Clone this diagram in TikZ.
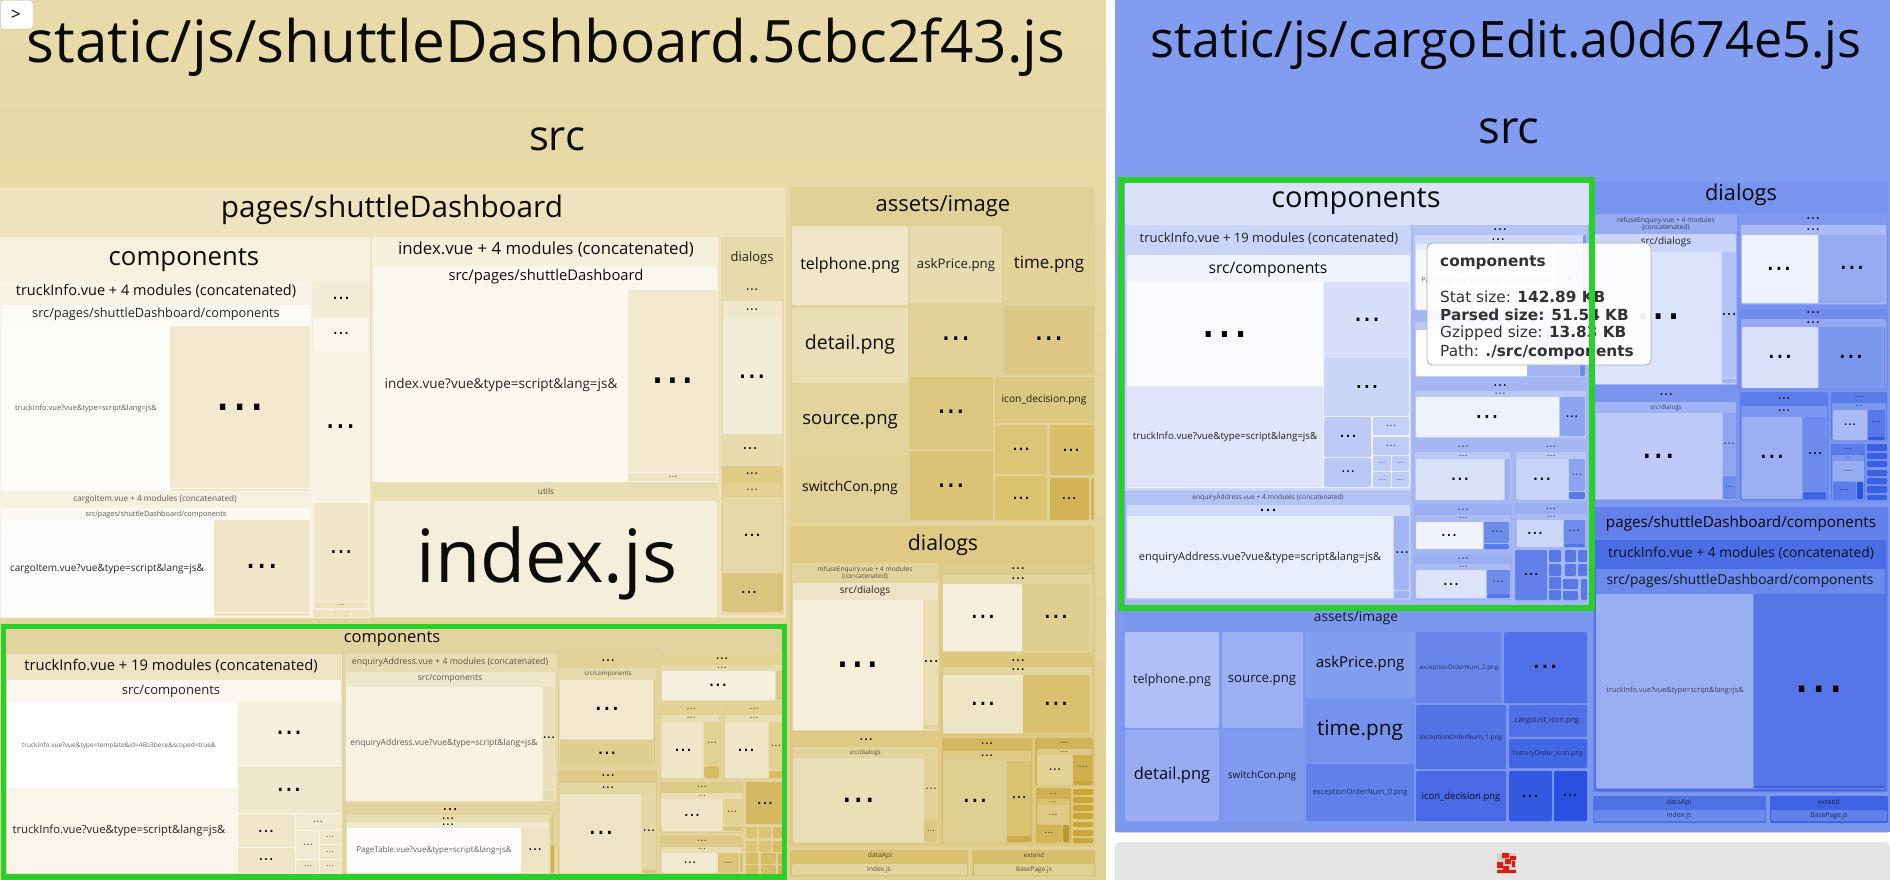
\documentclass[tikz,border=0pt]{standalone}
\usepackage{fontspec}
\setmainfont{Open Sans}
\newfontfamily\tipf{DejaVu Sans}
\usetikzlibrary{calc}
\font\measf="Open Sans" at 10pt
\newsavebox\mybox
\newcommand\R[5]{\definecolor{tmpc}{HTML}{#5}\fill[tmpc,rounded corners=1.2pt] (#1,#2) rectangle (#3,#4);}
\newcommand\T[4]{\sbox\mybox{\measf #4}\edef\wdv{\the\wd\mybox}%
 \pgfmathsetmacro\szv{round(40*(#3/\wdv))/4}%
 \pgfmathsetmacro\shv{-0.33*\szv}%
 \pgfmathparse{\szv<9?0.62:(\szv<14?0.85:0.95)}\let\opv\pgfmathresult
 \node[txt,yshift=\shv pt,text opacity=\opv,font=\fontsize{\szv}{\szv}\selectfont] at (#1,#2) {#4};}
\newcommand\Two[5]{\node[dotnode,text opacity=.62,align=center,font=\fontsize{#3}{#4}\selectfont] at (#1,#2) {#5};}
\newcommand\D[3]{\pgfmathparse{#3<10?0.7:1}\let\opv\pgfmathresult
 \pgfmathsetmacro\szv{round(#3/0.78*4)/4}%
 \node[dotnode,text opacity=\opv,font=\tipf\fontsize{\szv}{\szv}\selectfont] at (#1,#2) {…};}
\tikzset{txt/.style={anchor=base,inner sep=0pt,outer sep=0pt,text=black},
 dotnode/.style={anchor=center,inner sep=0pt,outer sep=0pt,text=black},
 greenbox/.style={draw={rgb,255:red,42;green,207;blue,44},line width=5.5pt,fill=none},
 tip/.style={anchor=base west,inner sep=0pt,font=\tipf\fontsize{15.3}{16}\selectfont,text={rgb,255:red,50;green,50;blue,50}}}
\begin{document}
\begin{tikzpicture}[x=1pt,y=-1pt]
\useasboundingbox (0,0) rectangle (1890,880);
\fill[white] (0,0) rectangle (1890,880);
% ---- LEFT PANEL
\fill[top color={rgb,255:red,232;green,218;blue,170},bottom color={rgb,255:red,226;green,209;blue,150}] (0,0) rectangle (1106,880);
\T{546}{43}{1038}{static/js/shuttleDashboard.5cbc2f43.js}
\T{557}{137}{56}{src}
% button
\definecolor{btn}{HTML}{BBBBBB}
\draw[btn,fill=white,rounded corners=3pt] (0.5,0.5) rectangle (33,29);
\T{16}{15}{10}{>}
% pages/shuttleDashboard
\R{0}{187}{786}{618}{EEE2BF}
\T{392}{208}{343}{pages/shuttleDashboard}
\R{0}{237}{370}{618}{F6F0DF}
\T{184}{257}{150}{components}
\R{0}{281}{311}{492}{F8F3E7}
\T{156}{291}{280}{truckInfo.vue + 4 modules (concatenated)}
\R{1}{305}{311}{491}{FCFAF4}
\T{156}{313}{250}{src/pages/shuttleDashboard/components}
\R{1}{326}{170}{491}{FDFCF9}
\T{86}{408}{140}{truckInfo.vue?vue\&type=script\&lang=js\&}
\R{170}{326}{310}{488}{F2E9CF}
\D{240}{407}{40}
\R{170}{489}{310}{491}{EFE5C8}
\R{312}{281}{369}{318}{F3ECD6}\D{341}{298}{14}
\R{314}{318}{368}{350}{F9F5EA}\D{341}{333}{13}
\R{312}{350}{369}{503}{F8F3E7}\D{341}{427}{24}
\R{314}{503}{368}{601}{EFE5C7}\D{341}{552}{18}
\R{314}{602}{368}{608}{EEE2BF}\D{341}{605}{5}
\R{313}{610}{331}{617}{EDE2BE}\R{332}{610}{350}{617}{EDE2BE}\R{351}{610}{369}{617}{EDE2BE}
\R{0}{492}{311}{617}{F6F0DE}
\T{155}{499}{165}{cargoItem.vue + 4 modules (concatenated)}
\R{1}{508}{311}{617}{FBF8F1}
\T{156}{514}{143}{src/pages/shuttleDashboard/components}
\R{1}{520}{214}{617}{FFFEFC}
\T{107}{568}{195}{cargoItem.vue?vue\&type=script\&lang=js\&}
\R{214}{520}{310}{612}{EFE6C8}\D{262}{566}{26}
\R{214}{613}{310}{616}{EEE2BF}
% index.vue
\R{372}{237}{718}{482}{F5EFDC}
\T{546}{249}{294}{index.vue + 4 modules (concatenated)}
\R{374}{266}{717}{482}{FAF7EE}
\T{546}{276}{194}{src/pages/shuttleDashboard}
\R{374}{290}{628}{482}{FBF8F0}
\T{501}{384}{234}{index.vue?vue\&type=script\&lang=js\&}
\R{628}{290}{717}{472}{F1E8CD}\D{673}{381}{35}
\R{628}{473}{717}{481}{EEE3C2}\D{673}{477}{7}
\R{372}{482}{718}{617}{E9DDB4}
\T{546}{492}{16}{utils}
\R{374}{501}{717}{617}{F5EEDB}
\T{547}{558}{260}{index.js}
% dialogs column
\R{721}{237}{784}{615}{E8DAAD}
\T{752}{257}{43}{dialogs}
\D{752}{290}{10}
\R{723}{301}{782}{463}{EBE0BC}
\R{723}{301}{782}{319}{F0E8CC}\D{752}{310}{10}
\R{723}{319}{782}{434}{F3ECD7}\D{752}{377}{22}
\R{723}{434}{776}{463}{E9DBAC}\D{750}{449}{12}
\R{777}{434}{782}{463}{E9DCAF}
\R{722}{466}{783}{612}{DFCA86}\D{752}{474}{10}
\R{723}{482}{782}{497}{E2D193}\D{752}{490}{9}
\R{723}{497}{782}{573}{E7D8A9}\D{752}{535}{14}
\R{723}{574}{776}{611}{DCC67D}\D{749}{592}{13}
\R{777}{574}{782}{611}{D9C170}
% assets/image
\R{790}{187}{1095}{522}{E2D197}
\T{943}{204}{135}{assets/image}
\R{792}{226}{908}{305}{F0E7CA}\T{850}{264}{99}{telphone.png}
\R{910}{226}{1002}{303}{E8DBB0}\T{956}{264}{78}{askPrice.png}
\R{1004}{226}{1094}{305}{E3D398}\T{1049}{263}{70}{time.png}
\R{792}{308}{908}{383}{EADEB5}\T{850}{343}{90}{detail.png}
\R{910}{306}{1002}{375}{E3D399}\D{956}{339}{23}
\R{1004}{306}{1094}{374}{DEC885}\D{1049}{339}{23}
\R{792}{384}{908}{454}{E3D49E}\T{850}{418}{96}{source.png}
\R{792}{455}{908}{520}{E2D197}\T{850}{487}{96}{switchCon.png}
\R{910}{377}{993}{449}{DDC67D}\D{951}{412}{22}
\R{910}{451}{993}{520}{DBC478}\D{951}{486}{22}
\R{995}{377}{1094}{423}{DDC881}\T{1044}{399}{84}{icon\_decision.png}
\R{995}{425}{1047}{474}{DCC576}\D{1021}{449}{14}
\R{1050}{425}{1094}{475}{D8BF68}\D{1071}{450}{14}
\R{995}{476}{1047}{520}{DBC370}\D{1021}{498}{14}
\R{1050}{478}{1089}{520}{D2B355}\D{1069}{499}{12}
\R{1091}{478}{1094}{520}{D2B355}
% dialogs
\R{790}{526}{1095}{846}{DEC985}
\T{943}{543}{70}{dialogs}
\R{792}{563}{939}{731}{E3D49E}
\Two{865}{573}{6.6}{7}{refuseEnquiry.vue + 4 modules\\(concatenated)}
\R{793}{583}{938}{730}{EDE4C5}\T{865}{590}{50}{src/dialogs}
\R{793}{600}{923}{730}{F5EEDB}\D{858}{665}{35}
\R{923}{600}{938}{725}{E9DDB3}\D{931}{662}{12}
\R{923}{725}{938}{729}{E3D49E}
\R{792}{733}{939}{845}{DEC985}\D{866}{740}{11}
\R{793}{747}{938}{843}{E3D49E}\T{865}{752}{31}{src/dialogs}
\R{793}{758}{924}{842}{EADFB6}\D{859}{800}{27}
\R{924}{758}{937}{820}{E2D195}\D{931}{789}{9}
\R{924}{820}{937}{842}{DCC781}\D{931}{831}{6}
\R{941}{564}{1093}{653}{DFCC8B}\D{1018}{569}{11}
\R{943}{575}{1092}{652}{E3D49F}\D{1018}{579}{11}
\R{943}{584}{1022}{651}{F5EFDD}\D{983}{617}{20}
\R{1023}{584}{1090}{651}{E0CE8F}\D{1056}{617}{20}
\R{942}{656}{1093}{735}{DCC67C}\D{1018}{661}{11}
\R{943}{667}{1092}{734}{E3D49F}\D{1018}{670}{11}
\R{943}{675}{1023}{733}{EFE5C7}\D{983}{704}{20}
\R{1023}{675}{1090}{733}{D9C170}\D{1056}{704}{20}
\R{942}{738}{1032}{843}{D4B85E}\D{987}{744}{10}
\R{943}{751}{1031}{843}{DEC986}\D{987}{756}{10}
\R{943}{761}{1006}{842}{E0CF92}\D{975}{801}{20}
\R{1007}{761}{1031}{836}{DAC272}\D{1019}{798}{12}
\R{1007}{836}{1031}{842}{CDAC48}
\R{1035}{738}{1093}{785}{D2B355}\D{1064}{743}{7}
\R{1037}{749}{1092}{785}{DEC986}\D{1064}{752}{6}
\R{1037}{755}{1073}{785}{E2D296}\D{1055}{770}{10}
\R{1073}{755}{1092}{781}{CFAF4C}\D{1083}{767}{7}
\R{1073}{781}{1092}{785}{C9A63B}
\R{1036}{788}{1071}{843}{CFB052}\D{1053}{794}{6}
\R{1037}{799}{1070}{843}{D9C270}\D{1053}{802}{5}
\R{1037}{805}{1069}{824}{DEC986}\D{1053}{815}{7}
\R{1037}{825}{1062}{842}{D3B655}\D{1049}{833}{7}
\R{1063}{825}{1069}{842}{B89832}
\R{1073}{789}{1093}{795}{C8A735}\R{1073}{797}{1093}{803}{C8A735}\R{1073}{805}{1093}{811}{C8A735}\R{1073}{813}{1093}{819}{C8A735}\R{1073}{822}{1093}{827}{C8A735}\R{1073}{830}{1093}{836}{C8A735}\R{1073}{838}{1093}{843}{C8A735}
\R{790}{850}{968}{876}{D9C170}\T{880}{855}{24}{dataApi}
\R{792}{864}{967}{875}{E4D59E}\T{879}{869}{24}{index.js}
\R{972}{850}{1095}{876}{D8BF6E}\T{1034}{855}{20}{extend}
\R{974}{864}{1094}{875}{E2D194}\T{1034}{869}{36}{BasePage.js}
% bottom components (green)
\R{6}{629}{782}{875}{E3D49F}
\T{392}{637}{96}{components}
\R{7}{654}{342}{875}{EEE4C3}\T{171}{666}{294}{truckInfo.vue + 19 modules (concatenated)}
\R{7}{680}{341}{873}{FAF7EE}\T{171}{690}{99}{src/components}
\R{7}{702}{237}{788}{FFFFFF}\T{119}{745}{190}{truckInfo.vue?vue\&type=template\&id=46b3bece\&scoped=true\&}
\R{7}{788}{237}{873}{F9F5EA}\T{119}{830}{213}{truckInfo.vue?vue\&type=script\&lang=js\&}
\R{238}{702}{341}{765}{F5EFDC}\D{289}{733}{21}
\R{238}{766}{341}{813}{F0E8CD}\D{289}{790}{20}
\R{238}{814}{295}{847}{F0E7CB}\D{266}{831}{13}
\R{238}{848}{295}{873}{EFE6C8}\D{266}{860}{12}
\R{296}{814}{341}{830}{F1E9D0}\D{318}{822}{8}
\R{296}{831}{319}{859}{F1E9D0}\D{308}{845}{8}
\R{320}{831}{341}{844}{EFE6C8}\D{330}{837}{6}
\R{320}{845}{341}{859}{EFE6C8}\D{330}{852}{6}
\R{296}{860}{319}{873}{EFE6C8}\D{308}{866}{6}
\R{320}{860}{341}{873}{EFE6C8}\D{330}{866}{6}
\R{345}{654}{557}{802}{E8DCB2}\T{450}{662}{196}{enquiryAddress.vue + 4 modules (concatenated)}
\R{346}{672}{555}{801}{EFE7CB}\T{450}{678}{64}{src/components}
\R{346}{687}{542}{801}{F6F1E0}\T{444}{743}{186}{enquiryAddress.vue?vue\&type=script\&lang=js\&}
\R{543}{687}{554}{789}{EBE0B9}\D{549}{738}{10}
\R{543}{790}{554}{800}{E8DCB1}
\R{345}{804}{557}{874}{E3D49F}\D{450}{810}{12}
\R{346}{815}{549}{874}{E9DDB4}\D{448}{819}{10}
\R{347}{822}{549}{873}{F2EAD0}\D{448}{825}{10}
\R{347}{828}{521}{873}{FEFDFB}\T{434}{850}{154}{PageTable.vue?vue\&type=script\&lang=js\&}
\R{521}{828}{548}{872}{EEE4C4}\D{535}{850}{11}
\R{551}{815}{554}{843}{DFCA86}\R{551}{845}{554}{873}{CFB050}
\R{558}{654}{657}{767}{E2D295}\D{608}{661}{11}
\R{559}{668}{656}{766}{E7DAAE}\T{608}{673}{48}{src/components}
\R{560}{680}{653}{739}{F1E8CE}\D{607}{709}{20}
\R{560}{740}{653}{766}{E0CE91}\D{607}{753}{15}
\R{654}{680}{655}{766}{D9C271}
\R{558}{771}{657}{875}{DFCB88}\D{608}{776}{11}
\R{559}{783}{656}{874}{E4D6A2}\D{608}{788}{10}
\R{560}{794}{641}{873}{EEE5C6}\D{601}{833}{20}
\R{642}{794}{656}{869}{E5D8A6}\D{649}{831}{10}
\R{642}{870}{656}{873}{DBC478}
\R{660}{654}{782}{701}{E2D191}\D{722}{659}{10}
\R{661}{665}{782}{701}{E7DAAE}\D{722}{668}{8}
\R{662}{671}{775}{700}{F5EFDD}\D{718}{685}{15}
\R{776}{671}{782}{697}{DEC986}
\R{776}{697}{782}{700}{DCC679}
\R{660}{704}{720}{779}{E2D191}\D{691}{709}{7}
\R{661}{715}{719}{778}{E9DDB4}\D{691}{718}{7}
\R{662}{722}{703}{778}{EFE5C7}\D{683}{750}{14}
\R{704}{722}{719}{765}{E2D292}\D{712}{743}{8}
\R{704}{766}{719}{778}{D6BC64}
\R{724}{704}{782}{779}{E2D191}\D{754}{709}{7}
\R{725}{715}{782}{778}{E9DDB4}\D{754}{718}{7}
\R{725}{722}{768}{778}{EFE5C7}\D{746}{750}{14}
\R{769}{722}{782}{770}{E2D292}\D{776}{746}{8}
\R{769}{771}{782}{778}{D6BC64}
\R{660}{782}{743}{833}{DFCB88}\D{702}{787}{8}
\R{661}{793}{742}{832}{E9DDB4}\D{702}{796}{6}
\R{662}{799}{722}{831}{EFE5C7}\D{692}{815}{13}
\R{723}{799}{742}{825}{E2D292}\D{732}{812}{8}
\R{723}{826}{742}{831}{DDC77E}
\R{660}{836}{743}{874}{DEC986}\D{702}{841}{8}
\R{661}{847}{742}{873}{E9DDB4}\D{702}{849}{6}
\R{662}{853}{717}{873}{F1E9D0}\D{690}{863}{10}
\R{718}{853}{739}{873}{DCC67C}\D{728}{863}{7}
\R{740}{853}{742}{873}{D6BC64}
\R{746}{782}{782}{824}{D5B962}\D{765}{803}{13}
\R{746}{827}{757}{838}{DAC372}\R{759}{827}{771}{838}{DAC372}\R{773}{827}{782}{838}{D6BC64}
\R{746}{841}{757}{852}{DAC372}\R{759}{841}{771}{852}{DAC372}\R{773}{841}{782}{852}{D6BC64}
\R{746}{853}{758}{864}{D6BC64}\R{761}{853}{776}{864}{D6BC64}\R{778}{853}{782}{864}{D2B355}
\R{746}{865}{758}{875}{D6BC64}\R{761}{865}{776}{875}{D6BC64}\R{778}{865}{782}{875}{D2B355}
\draw[greenbox] (3.7,626.7) rectangle (784.5,877);
% ---- RIGHT PANEL
\fill[top color={rgb,255:red,130;green,157;blue,240},bottom color={rgb,255:red,124;green,151;blue,238},rounded corners=2pt] (1115,0) rectangle (1890,832);
\definecolor{grayb}{HTML}{E5E5E5}
\fill[grayb,rounded corners=6pt] (1115,842) rectangle (1890,890);
\T{1506}{41}{710}{static/js/cargoEdit.a0d674e5.js}
\T{1509}{128}{61}{src}
% logo
\definecolor{logog}{HTML}{CFCFCF}\definecolor{logor}{HTML}{E2190C}
\fill[logog] (1497,853) rectangle (1516,873);
\fill[logor] (1502,853) rectangle (1509,858) (1510,856) rectangle (1516,860) (1505,859) rectangle (1511,864) (1497,862) rectangle (1503,868) (1512,861) rectangle (1515,867) (1503,866) rectangle (1509,871) (1497,870) rectangle (1516,873);
% dialogs right
\R{1593}{182}{1888}{503}{7894EE}
\T{1741}{193}{72}{dialogs}
\R{1595}{214}{1737}{385}{97ABF2}
\Two{1666}{223.5}{6.8}{7}{refuseEnquiry.vue + 4 modules\\(concatenated)}
\R{1595}{234}{1736}{384}{CAD5F9}\T{1666}{241}{50}{src/dialogs}
\R{1596}{252}{1721}{384}{DBE2FB}\D{1659}{317}{36}
\R{1722}{252}{1736}{378}{B3C2F5}\D{1729}{315}{12}
\R{1722}{379}{1736}{383}{9FB2F3}
\R{1595}{388}{1737}{500}{7894EE}\D{1666}{395}{11}
\R{1595}{402}{1736}{500}{A0B3F3}\T{1666}{407}{31}{src/dialogs}
\R{1596}{413}{1722}{499}{BDCAF7}\D{1659}{456}{27}
\R{1723}{413}{1736}{475}{8EA5F1}\D{1729}{444}{9}
\R{1723}{476}{1736}{499}{6D8CEC}\D{1729}{487}{6}
\R{1739}{214}{1887}{305}{7E99EF}\D{1813}{219}{11}
\R{1741}{225}{1886}{304}{ABBCF4}\D{1813}{230}{11}
\R{1742}{235}{1818}{303}{EEF2FE}\D{1779}{269}{20}
\R{1819}{235}{1885}{303}{96ABF2}\D{1852}{268}{20}
\R{1739}{309}{1887}{389}{6F8CEC}\D{1813}{313}{11}
\R{1741}{319}{1886}{388}{94A9F2}\D{1813}{323}{11}
\R{1742}{327}{1818}{388}{D9E1FA}\D{1780}{357}{20}
\R{1819}{327}{1883}{388}{7C97EE}\D{1851}{357}{20}
\R{1884}{327}{1885}{388}{6380EA}
\R{1740}{392}{1828}{500}{5C7CE9}\D{1784}{399}{10}
\R{1741}{406}{1827}{499}{7B96EE}\D{1784}{411}{10}
\R{1742}{417}{1802}{499}{9CAFF2}\D{1772}{457}{20}
\R{1803}{417}{1826}{491}{6D8BEC}\D{1815}{454}{12}
\R{1803}{492}{1826}{499}{4063E4}
\R{1831}{392}{1887}{440}{5B7BE9}\D{1859}{397}{7}
\R{1832}{403}{1886}{440}{7C97EE}\D{1859}{406}{6}
\R{1833}{410}{1867}{440}{A9BAF4}\D{1850}{425}{10}
\R{1868}{410}{1885}{437}{5877E8}\D{1876}{422}{7}
\R{1868}{437}{1885}{440}{3059E1}
\R{1831}{444}{1865}{500}{5B7BE9}\D{1848}{449}{6}
\R{1832}{455}{1864}{500}{7C97EE}\D{1848}{458}{5}
\R{1833}{461}{1864}{481}{97ABF2}\D{1848}{471}{7}
\R{1833}{482}{1856}{500}{5C7CE9}\D{1844}{490}{7}
\R{1857}{482}{1863}{499}{2851DF}
\R{1867}{444}{1887}{451}{3C60E4}\R{1867}{453}{1887}{459}{3C60E4}\R{1867}{461}{1887}{467}{3C60E4}\R{1867}{470}{1887}{476}{3C60E4}\R{1867}{478}{1887}{484}{3C60E4}\R{1867}{486}{1887}{493}{3C60E4}\R{1867}{495}{1887}{500}{3C60E4}
% pages right
\R{1593}{507}{1888}{792}{637FEA}\T{1741}{522}{270}{pages/shuttleDashboard/components}
\R{1595}{540}{1886}{791}{4A6CE5}\T{1741}{553}{267}{truckInfo.vue + 4 modules (concatenated)}
\R{1596}{569}{1885}{789}{6C89EC}\T{1740}{580}{265}{src/pages/shuttleDashboard/components}
\R{1596}{594}{1753}{788}{9AAEF2}\T{1675}{690}{137}{truckInfo.vue?vue\&type=script\&lang=js\&}
\R{1754}{594}{1885}{786}{5676E8}\D{1819}{689}{40}
\R{1754}{786}{1885}{788}{3D60E3}
\R{1593}{796}{1766}{823}{4F71E6}\T{1679}{802}{25}{dataApi}
\R{1594}{810}{1765}{821}{6C89EC}\T{1679}{815}{25}{index.js}
\R{1770}{796}{1888}{823}{3F62E3}\T{1829}{802}{22}{extend}
\R{1771}{810}{1887}{821}{6180EA}\T{1829}{815}{37}{BasePage.js}
% assets right
\R{1123}{611}{1593}{825}{7C97EE}\T{1356}{617}{84}{assets/image}
\R{1125}{632}{1219}{728}{B0BFF5}\T{1172}{679}{78}{telphone.png}
\R{1222}{632}{1303}{728}{9CAFF2}\T{1262}{678}{68}{source.png}
\R{1125}{730}{1219}{821}{97ACF2}\T{1172}{774}{76}{detail.png}
\R{1222}{730}{1303}{821}{7F9AEE}\T{1262}{775}{68}{switchCon.png}
\R{1306}{632}{1414}{697}{839DEF}\T{1360}{663}{88}{askPrice.png}
\R{1306}{699}{1414}{762}{7592ED}\T{1360}{729}{86}{time.png}
\R{1306}{764}{1414}{821}{6280EA}\T{1360}{792}{94}{exceptionOrderNum\_0.png}
\R{1416}{632}{1501}{703}{6985EB}\T{1459}{667}{78}{exceptionOrderNum\_2.png}
\R{1504}{632}{1587}{703}{5070E7}\D{1545}{667}{20}
\R{1416}{705}{1506}{769}{5373E7}\T{1461}{737}{81}{exceptionOrderNum\_1.png}
\R{1509}{705}{1587}{737}{4F70E6}\T{1547}{720}{64}{cargoList\_icon.png}
\R{1509}{739}{1587}{768}{4366E5}\T{1548}{753}{70}{historyOrder\_icon.png}
\R{1416}{771}{1506}{821}{4A6AE5}\T{1461}{796}{78}{icon\_decision.png}
\R{1509}{771}{1552}{821}{3559E2}\D{1530}{796}{14}
\R{1554}{771}{1587}{821}{2A50E0}\D{1570}{796}{12}
% components right
\R{1125}{183}{1589}{605}{A5B7F3}
\R{1125}{183}{1589}{225}{D9E1FB}
\T{1356}{198}{170}{components}
\R{1125}{225}{1411}{491}{C9D5F8}\T{1269}{238}{259}{truckInfo.vue + 19 modules (concatenated)}
\R{1127}{255}{1410}{488}{F1F4FE}\T{1268}{268}{119}{src/components}
\R{1127}{282}{1323}{386}{FAFBFF}\D{1225}{334}{38}
\R{1127}{386}{1323}{487}{DFE5FB}\T{1225}{436}{185}{truckInfo.vue?vue\&type=script\&lang=js\&}
\R{1324}{282}{1409}{358}{D7DFFA}\D{1367}{320}{21}
\R{1324}{358}{1409}{416}{CBD5F8}\D{1367}{387}{19}
\R{1324}{417}{1371}{457}{BECBF7}\D{1348}{436}{14}
\R{1324}{458}{1371}{487}{BAC8F6}\D{1348}{472}{11}
\R{1373}{417}{1409}{435}{C5D1F8}\D{1391}{426}{8}
\R{1373}{437}{1409}{455}{BFCCF7}\D{1391}{446}{8}
\R{1373}{456}{1391}{471}{C0CDF7}\D{1382}{463}{5}
\R{1392}{456}{1409}{471}{C0CDF7}\D{1400}{463}{5}
\R{1373}{472}{1391}{487}{C0CDF7}\D{1382}{480}{5}
\R{1392}{472}{1409}{487}{C0CDF7}\D{1400}{480}{5}
\R{1126}{492}{1411}{600}{B4C3F6}\T{1268}{497}{153}{enquiryAddress.vue + 4 modules (concatenated)}
\R{1127}{505}{1410}{598}{CFD9F9}\D{1268}{510}{14}
\R{1127}{516}{1393}{598}{E8EDFC}\T{1260}{557}{242}{enquiryAddress.vue?vue\&type=script\&lang=js\&}
\R{1394}{516}{1409}{590}{A3B5F3}\D{1402}{553}{11}
\R{1394}{591}{1409}{598}{9FB2F3}
% right col
\R{1413}{225}{1587}{310}{B4C3F6}\D{1500}{230}{11}
\R{1415}{235}{1586}{310}{CFD9F9}\D{1498}{240}{11}
\R{1416}{244}{1581}{310}{E7ECFC}\D{1498}{248}{10}
\R{1416}{250}{1555}{309}{F7F9FE}
\T{1487}{280}{130}{PageTable.vue?vue\&type=script\&lang=js\&}
\R{1556}{250}{1581}{309}{C5D1F8}\D{1569}{280}{10}
\R{1583}{235}{1586}{272}{7C97EE}\R{1583}{274}{1586}{310}{7C97EE}
\R{1414}{313}{1587}{377}{A5B7F3}\D{1500}{318}{10}
\R{1415}{322}{1586}{377}{BAC8F6}\D{1498}{325}{9}
\R{1416}{330}{1527}{376}{FFFFFF}
\R{1527}{330}{1579}{376}{A2B4F3}
\R{1580}{330}{1585}{376}{6E8AEC}
\R{1414}{381}{1587}{439}{A5B7F3}\D{1500}{386}{11}
\R{1415}{391}{1586}{438}{BAC8F6}\D{1500}{394}{9}
\R{1416}{397}{1559}{437}{EFF2FD}\D{1487}{417}{19}
\R{1560}{397}{1585}{436}{8DA4F0}\D{1572}{417}{10}
\R{1414}{442}{1512}{501}{A5B7F3}\D{1463}{447}{9}
\R{1415}{452}{1511}{500}{BAC8F6}\D{1463}{456}{7}
\R{1416}{459}{1504}{500}{D9E0FA}\D{1460}{479}{15}
\R{1505}{459}{1510}{500}{9CAFF2}
\R{1515}{442}{1587}{501}{A5B7F3}\D{1551}{447}{8}
\R{1516}{452}{1586}{500}{BAC8F6}\D{1551}{456}{7}
\R{1517}{459}{1568}{499}{C8D3F8}\D{1542}{479}{15}
\R{1569}{459}{1585}{491}{8CA3F0}\D{1577}{475}{8}
\R{1569}{492}{1585}{499}{5678E8}
\R{1414}{504}{1512}{550}{9AAEF2}\D{1463}{510}{9}
\R{1415}{515}{1511}{549}{ABBCF4}\D{1463}{518}{7}
\R{1416}{522}{1483}{549}{F0F3FE}\D{1449}{535}{13}
\R{1484}{522}{1509}{543}{6D8CEC}\D{1497}{532}{9}
\R{1484}{544}{1509}{549}{5A7AE9}
\R{1414}{554}{1512}{600}{9AAEF2}\D{1463}{559}{9}
\R{1415}{564}{1511}{599}{ABBCF4}\D{1463}{567}{7}
\R{1416}{570}{1486}{598}{DCE3FA}\D{1451}{584}{13}
\R{1487}{570}{1510}{594}{6D8CEC}\D{1498}{582}{9}
\R{1487}{594}{1510}{598}{5474E7}
\R{1515}{503}{1587}{548}{9AAEF2}\D{1551}{509}{8}
\R{1516}{514}{1586}{547}{ABBCF4}\D{1551}{517}{7}
\R{1517}{520}{1563}{547}{CCD6F9}\D{1535}{533}{13}
\R{1564}{520}{1585}{544}{6D8CEC}\D{1574}{531}{9}
\R{1564}{544}{1585}{547}{5474E7}
\R{1515}{550}{1547}{600}{6380EA}\D{1531}{575}{12}
\R{1549}{550}{1561}{562}{5878E8}\R{1565}{550}{1576}{562}{5878E8}\R{1578}{550}{1587}{562}{5878E8}
\R{1549}{564}{1561}{576}{5878E8}\R{1565}{564}{1576}{576}{5878E8}\R{1578}{564}{1587}{576}{5878E8}
\R{1549}{577}{1561}{589}{5878E8}\R{1563}{579}{1578}{589}{5878E8}\R{1581}{579}{1587}{600}{5878E8}
\R{1549}{590}{1561}{600}{5878E8}\R{1563}{591}{1578}{600}{5878E8}
% tooltip
\definecolor{tipb}{HTML}{AAAAAA}
\fill[white,fill opacity=.93,rounded corners=5pt] (1427,243) rectangle (1651,365);
\draw[tipb,rounded corners=5pt,line width=0.8pt] (1427,243) rectangle (1651,365);
\node[tip] at (1440,266) {\bfseries components};
\node[tip] at (1440,302) {Stat size: \textbf{142.89 KB}};
\node[tip] at (1440,320) {\textbf{Parsed size: 51.54 KB}};
\node[tip] at (1440,337) {Gzipped size: \textbf{13.83 KB}};
\node[tip] at (1440,356) {Path: \textbf{./src/components}};
\draw[greenbox] (1121,180) rectangle (1592,608);
\end{tikzpicture}
\end{document}
